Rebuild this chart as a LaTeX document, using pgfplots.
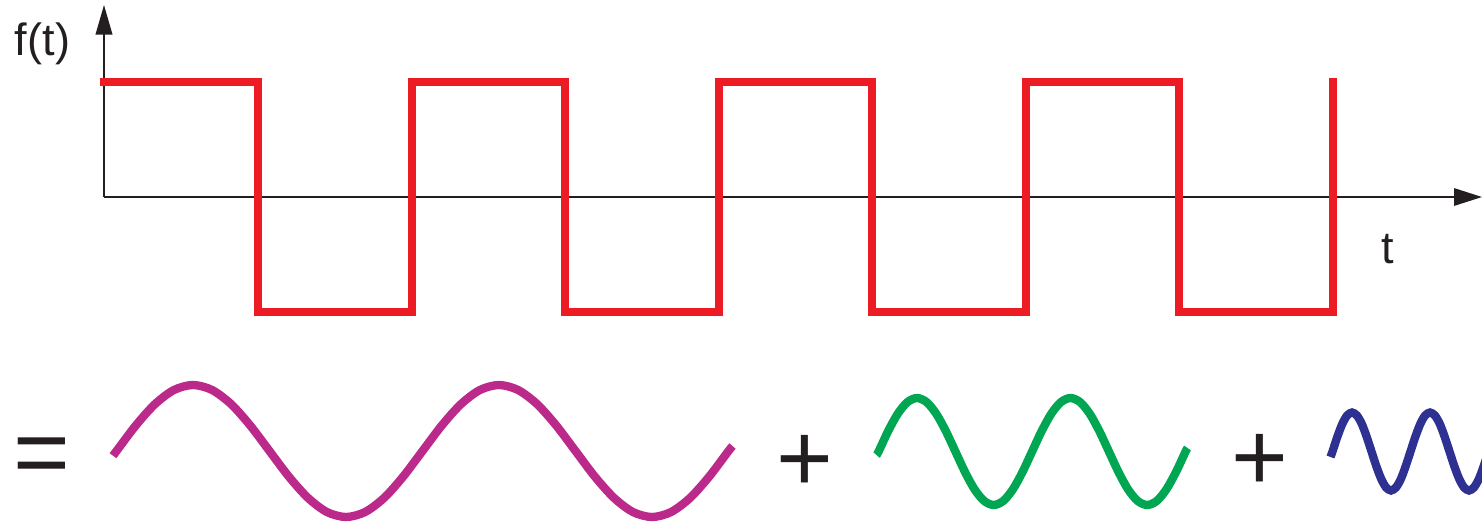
\documentclass[border=0pt]{standalone}
\usepackage{fontspec}
\setmainfont{Liberation Sans}
\usepackage{pgfplots}
\pgfplotsset{compat=1.18}
\usetikzlibrary{arrows.meta}

\definecolor{sqred}{HTML}{ED1C24}
\definecolor{wmag}{HTML}{BB2A8B}
\definecolor{wgreen}{HTML}{00A651}
\definecolor{wblue}{HTML}{2E3192}
\definecolor{ink}{HTML}{231F20}

\begin{document}
\begin{tikzpicture}
\begin{axis}[
scale only axis,
width=15cm,height=5.3036cm,
xmin=0,xmax=1482,
ymin=0,ymax=524,
y dir=reverse,
hide axis,
clip mode=individual,
]

% axes with arrows
\addplot[ink,line width=0.45pt,-{Triangle[length=8pt,width=5pt]}]
coordinates {(104,197)(1482,197)};
\addplot[ink,line width=0.45pt,-{Triangle[length=8.5pt,width=4.8pt]}]
coordinates {(104,197)(104,5)};

% square wave
\addplot[sqred,line width=2.3pt,line join=miter,line cap=butt]
coordinates {
(100,82)(258,82)(258,312)(412,312)(412,82)(565,82)(565,312)(719,312)
(719,82)(872,82)(872,312)(1026,312)(1026,82)(1179,82)(1179,312)
(1333,312)(1333,78)
};

% fundamental
\addplot[wmag,line width=2.4pt,smooth,line cap=butt]
coordinates {
(113,455.7)
(116.5,451)(135.6,425.7)(154.8,404.3)(173.9,390.0)(193.0,385)
(212.1,390.0)(231.3,404.3)(250.4,425.7)(269.5,451)(288.6,476.3)
(307.8,497.7)(326.9,512.0)(346.0,517)(365.1,512.0)(384.3,497.7)
(403.4,476.3)(422.5,451)(441.6,425.7)(460.8,404.3)(479.9,390.0)
(499.0,385)(518.1,390.0)(537.3,404.3)(556.4,425.7)(575.5,451)
(594.6,476.3)(613.8,497.7)(632.9,512.0)(652.0,517)(671.1,512.0)
(690.3,497.7)(709.4,476.3)(728.5,451)(732.5,446)
};

% second harmonic
\addplot[wgreen,line width=2.4pt,smooth,line cap=butt]
coordinates {
(876.5,455)
(878.6,451.5)(888.2,431.0)(897.8,413.7)(907.4,402.1)(917.0,398)
(926.6,402.1)(936.2,413.7)(945.8,431.0)(955.4,451.5)(965.0,472.0)
(974.5,489.3)(984.1,500.9)(993.7,505)(1003.3,500.9)(1012.9,489.3)
(1022.5,472.0)(1032.1,451.5)(1041.7,431.0)(1051.3,413.7)(1060.9,402.1)
(1070.5,398)(1080.1,402.1)(1089.7,413.7)(1099.3,431.0)(1108.9,451.5)
(1118.5,472.0)(1128.0,489.3)(1137.6,500.9)(1147.2,505)(1156.8,500.9)
(1166.4,489.3)(1176.0,472.0)(1185.6,451.5)(1187.5,448)
};

% third harmonic
\addplot[wblue,line width=2.4pt,smooth,line cap=butt]
coordinates {
(1330.5,457)
(1332.5,451.5)(1337.4,436.6)(1342.3,423.9)(1347.1,415.5)(1352.0,412.5)
(1356.9,415.5)(1361.8,423.9)(1366.6,436.6)(1371.5,451.5)(1376.4,466.4)
(1381.3,479.1)(1386.1,487.5)(1391.0,490.5)(1395.9,487.5)(1400.8,479.1)
(1405.6,466.4)(1410.5,451.5)(1415.4,436.6)(1420.3,423.9)(1425.1,415.5)
(1430.0,412.5)(1434.9,415.5)(1439.8,423.9)(1444.6,436.6)(1449.5,451.5)
(1454.4,466.4)(1459.3,479.1)(1464.1,487.5)(1469.0,490.5)(1473.9,487.5)
(1478.8,479.1)(1483.6,466.4)(1488.5,451.5)
};

% labels
\node[ink,inner sep=0pt,font=\fontsize{13}{15}\selectfont] at (axis cs:42.5,43.5) {f(t)};
\node[ink,inner sep=0pt,font=\fontsize{13}{15}\selectfont] at (axis cs:1388,249) {t};
\node[ink,inner sep=0pt,font=\fontsize{28}{30}\selectfont] at (axis cs:42,462) {=};
\node[ink,inner sep=0pt,font=\fontsize{28}{30}\selectfont] at (axis cs:805,463) {+};
\node[ink,inner sep=0pt,font=\fontsize{28}{30}\selectfont] at (axis cs:1259.5,462) {+};

\end{axis}
\pgfresetboundingbox
\path (current axis.south west) rectangle (current axis.north east);
\end{tikzpicture}
\end{document}
